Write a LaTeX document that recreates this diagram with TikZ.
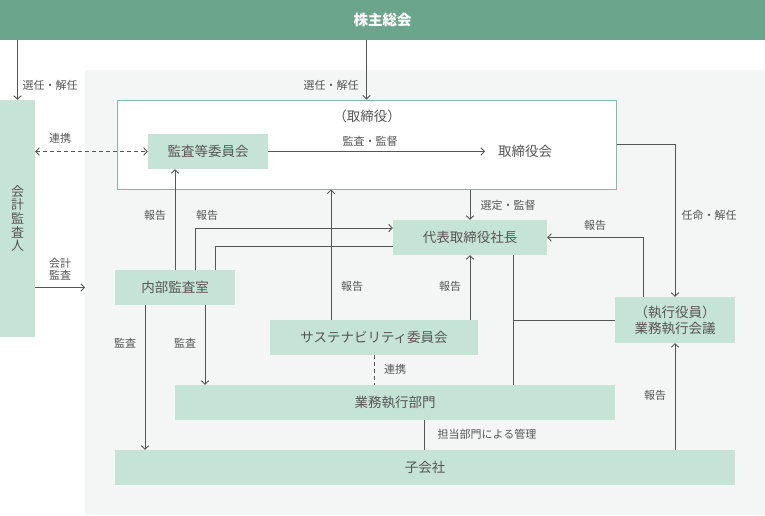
\documentclass[tikz,border=0pt]{standalone}
\usepackage{fontspec}
\setmainfont{Noto Sans CJK JP}
\usetikzlibrary{arrows.meta}
\definecolor{topbar}{HTML}{6BA68C}
\definecolor{boxfill}{HTML}{C6E3D8}
\definecolor{bgray}{HTML}{F4F6F5}
\definecolor{frameline}{HTML}{7FBCA5}
\definecolor{ink}{HTML}{555555}
\begin{document}
\begin{tikzpicture}[x=1pt,y=-1pt,
  box/.style={fill=boxfill,draw=none,inner sep=0pt,text=ink,font=\fontsize{13.5}{16}\selectfont,align=center},
  lbl/.style={text=ink,inner sep=0pt,font=\fontsize{11}{12.5}\selectfont,align=center},
  conn/.style={draw=ink,line width=0.9pt},
  arr/.style={conn,-{Straight Barb[length=3.5pt,width=7.5pt]}},
  darr/.style={conn,dashed,dash pattern=on 4pt off 3pt,{Straight Barb[length=3.5pt,width=7.5pt]}-{Straight Barb[length=3.5pt,width=7.5pt]}},
  dline/.style={conn,dash pattern=on 4pt off 3pt}]
\useasboundingbox (0,0) rectangle (765,515);
\fill[white] (0,0) rectangle (765,515);
\fill[bgray] (85,70) rectangle (765,515);
% nodes
\node[fill=topbar,inner sep=0pt,minimum width=765pt,minimum height=40pt,text=white,font=\fontsize{14.5}{16}\selectfont\bfseries] (kabu) at (382.5,20) {株主総会};
\node[box,minimum width=35pt,minimum height=237pt,font=\fontsize{13}{13.6}\selectfont] (kaikei) at (17.5,218.5) {会\\計\\監\\査\\人};
\node[fill=white,draw=frameline,line width=1pt,minimum width=499pt,minimum height=89pt,inner sep=0pt] (frame) at (366.5,144.5) {};
\node[text=ink,font=\fontsize{13.5}{16}\selectfont,inner sep=0pt] (frametitle) at (367,116) {（取締役）};
\node[box,minimum width=120pt,minimum height=35pt] (kansa) at (208,151.5) {監査等委員会};
\node[text=ink,font=\fontsize{13.5}{16}\selectfont,inner xsep=13pt,inner ysep=0pt,anchor=west] (torikai) at (485,151.5) {取締役会};
\node[box,minimum width=154pt,minimum height=35pt] (daihyo) at (470,237.5) {代表取締役社長};
\node[box,minimum width=120pt,minimum height=46pt] (kaigi) at (675,320) {（執行役員）\\業務執行会議};
\node[box,minimum width=120pt,minimum height=35pt] (naibu) at (175,287.5) {内部監査室};
\node[box,minimum width=208pt,minimum height=35pt] (sust) at (374,337.5) {サステナビリティ委員会};
\node[box,minimum width=440pt,minimum height=35pt] (bumon) at (395,402.5) {業務執行部門};
\node[box,minimum width=620pt,minimum height=35pt] (kogai) at (425,467.5) {子会社};
\coordinate (kaikeiend) at (85,287.5);
% connectors
\draw[arr] (kaikei.north |- kabu.south) -- (kaikei.north);
\draw[arr] (frame.north |- kabu.south) -- (frame.north);
\draw[darr] (kaikei.east |- kansa.west) -- (kansa.west);
\draw[arr] (kansa.east) -- (torikai.west);
\draw[arr] (daihyo.north |- frame.south) -- (daihyo.north);
\draw[arr] (frame.east) -| (kaigi.north);
\draw[arr] ([xshift=-32pt]kaigi.north) |- (daihyo.east);
\draw[arr] (naibu.north) -- (naibu.north |- kansa.south);
\draw[arr] ([xshift=20pt]naibu.north) |- ([yshift=9.5pt]daihyo.west);
\draw[conn] ([xshift=40pt]naibu.north) |- ([yshift=-8.5pt]daihyo.west);
\draw[arr] (kaikei.east |- naibu.west) -- (kaikeiend);
\draw[arr] ([xshift=-30pt]naibu.south) -- ([xshift=-30pt]naibu.south |- kogai.north);
\draw[arr] ([xshift=30pt]naibu.south) -- ([xshift=30pt]naibu.south |- bumon.north);
\draw[arr] ([xshift=-43pt]sust.north) -- ([xshift=-43pt]sust.north |- frame.south);
\draw[arr] (daihyo.south |- sust.north) -- (daihyo.south);
\draw[dline] (sust.south) -- (sust.south |- bumon.north);
\draw[conn] ([xshift=43pt]daihyo.south) -- ([xshift=43pt]daihyo.south |- bumon.north);
\draw[conn] ([xshift=43pt]daihyo.south |- kaigi.west) -- (kaigi.west);
\draw[conn] ([xshift=29pt]bumon.south) -- ([xshift=29pt]bumon.south |- kogai.north);
\draw[arr] (kaigi.south |- kogai.north) -- (kaigi.south);
% labels
\node[lbl] (l1) at (50,85) {選任・解任};
\node[lbl] (l2) at (331,85) {選任・解任};
\node[lbl] (l3) at (60,138) {連携};
\node[lbl] (l4) at (370,141) {監査・監督};
\node[lbl] (l5) at (508,205) {選定・監督};
\node[lbl] (l6) at (709,215) {任命・解任};
\node[lbl] (l7) at (595,225) {報告};
\node[lbl] (l8) at (155,215) {報告};
\node[lbl] (l9) at (207,215) {報告};
\node[lbl,font=\fontsize{11}{12}\selectfont] (l10) at (60,269) {会計\\監査};
\node[lbl] (l11) at (352,286) {報告};
\node[lbl] (l12) at (450,286) {報告};
\node[lbl] (l13) at (125,343) {監査};
\node[lbl] (l14) at (185,343) {監査};
\node[lbl] (l15) at (395,369) {連携};
\node[lbl] (l16) at (655,395) {報告};
\node[lbl] (l17) at (487,434) {担当部門による管理};
\end{tikzpicture}
\end{document}
